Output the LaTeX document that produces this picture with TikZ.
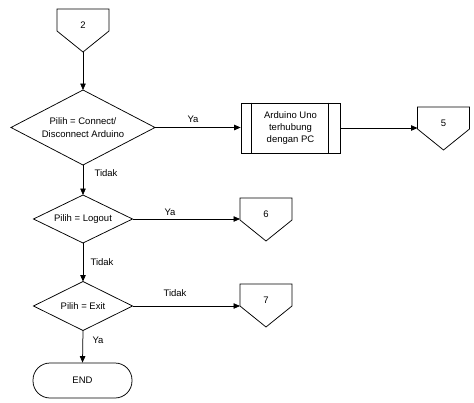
\documentclass[tikz,border=0pt]{standalone}
\usepackage{fontspec}
\setmainfont{Liberation Sans}
\usetikzlibrary{arrows.meta,calc}
\tikzset{
  every picture/.style={x=1pt,y=-1pt},
  txt/.style={font=\fontsize{9.5}{12.3}\selectfont, inner sep=0pt, align=center},
  shp/.style={draw=black, line width=0.75pt},
  flow/.style={draw=black, line width=0.75pt, -{Triangle[length=6.5pt,width=5.5pt]}},
  lbl/.style={font=\fontsize{9.5}{11}\selectfont, inner sep=0pt},
}
\newcommand{\offpg}[4]{%
  \node[txt] (#1) at (#2,#3) {#4};
  \draw[shp] (#1.center) ++(-26,-16) -- ++(52,0) -- ++(0,22) -- ++(-26,21) -- ++(-26,-21) -- cycle;
  \path (#1.center) ++(-26,6) coordinate (#1-w);
  \path (#1.center) ++(0,27) coordinate (#1-tip);
}
\newcommand{\dmd}[6]{%
  \node[txt] (#1) at (#2,#3) {#6};
  \draw[shp] (#1.center) ++(-#4,0) -- ++(#4,-#5) -- ++(#4,#5) -- ++(-#4,#5) -- cycle;
  \path (#1.center) ++(0,-#5) coordinate (#1-n);
  \path (#1.center) ++(0,#5) coordinate (#1-s);
  \path (#1.center) ++(#4,0) coordinate (#1-e);
}
\begin{document}
\begin{tikzpicture}
\useasboundingbox (0,0) rectangle (474,402);
\offpg{c2}{83}{25}{2}
\dmd{d1}{83}{127.5}{72}{37.5}{Pilih = Connect/\\Disconnect Arduino}
\node[shp, txt, minimum width=99pt, minimum height=50pt] (p) at (290.5,128) {Arduino Uno\\terhubung\\dengan PC};
\draw[shp] ([xshift=11pt]p.north west) -- ([xshift=11pt]p.south west);
\draw[shp] ([xshift=-12pt]p.north east) -- ([xshift=-12pt]p.south east);
\offpg{c5}{443.5}{123}{5}
\dmd{d2}{83}{219}{49.5}{24}{Pilih = Logout}
\offpg{c6}{266}{214}{6}
\dmd{d3}{83}{306}{49.5}{24.5}{Pilih = Exit}
\offpg{c7}{266}{300}{7}
\node[shp, txt, rounded corners=17pt, minimum width=99pt, minimum height=35pt] (end) at (82.5,380.5) {END};

\draw[flow] (c2-tip) -- (d1-n);
\draw[flow] (d1-e) -- (d1-e -| p.west);
\draw[flow] (p.east) -- (p.east -| c5-w);
\draw[flow] (d1-s) -- (d2-n);
\draw[flow] (d2-e) -- (d2-e -| c6-w);
\draw[flow] (d2-s) -- (d3-n);
\draw[flow] (d3-e) -- (d3-e -| c7-w);
\draw[flow] (d3-s) -- (end.north);

\node[lbl] (l1) at (193,119) {Ya};
\node[lbl] (l2) at (106,173) {Tidak};
\node[lbl] (l3) at (170,212) {Ya};
\node[lbl] (l4) at (102,262) {Tidak};
\node[lbl] (l5) at (175,293) {Tidak};
\node[lbl] (l6) at (98,340) {Ya};
\end{tikzpicture}
\end{document}
